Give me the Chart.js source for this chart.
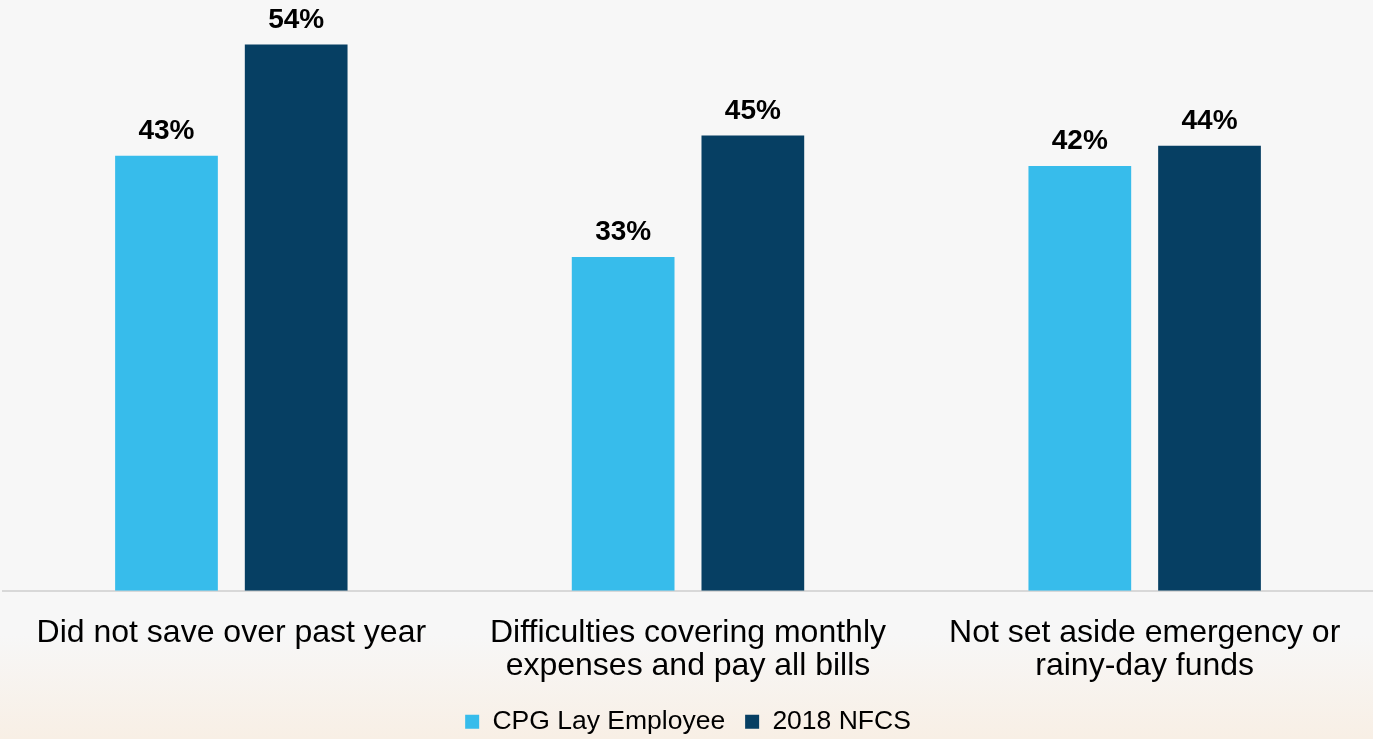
<!DOCTYPE html>
<html>
<head>
<meta charset="utf-8">
<title>Financial stress indicators</title>
<script src="https://cdn.jsdelivr.net/npm/chart.js@4/dist/chart.umd.min.js"></script>
<style>
  html, body {
    margin: 0;
    padding: 0;
  }
  body {
    width: 1373px;
    height: 739px;
    overflow: hidden;
    background: linear-gradient(180deg, #f7f7f7 0%, #f7f7f7 86%, #f8efe5 100%);
  }
  #wrap {
    position: relative;
    width: 1373px;
    height: 739px;
  }
</style>
</head>
<body>
<div id="wrap"><canvas id="myChart"></canvas></div>
<script>
const categories = [
  "Did not save over past year",
  ["Difficulties covering monthly", "expenses and pay all bills"],
  ["Not set aside emergency or", "rainy-day funds"]
];
const seriesNames = ["CPG Lay Employee", "2018 NFCS"];
const cpgValues = [43, 33, 42];
const nfcsValues = [54, 45, 44];
const barColors = ["#37bceb", "#063f63"];

const fontFamily = '"Liberation Sans", Arial, sans-serif';

// percentage labels above each bar
const barValueLabels = {
  id: "barValueLabels",
  afterDatasetsDraw(chart) {
    const ctx = chart.ctx;
    ctx.save();
    ctx.font = "bold 28px " + fontFamily;
    ctx.fillStyle = "#000";
    ctx.textAlign = "center";
    ctx.textBaseline = "alphabetic";
    chart.data.datasets.forEach(function (ds, i) {
      chart.getDatasetMeta(i).data.forEach(function (bar, j) {
        ctx.fillText(ds.data[j] + "%", bar.x, bar.y - 17);
      });
    });
    ctx.restore();
  }
};

new Chart("myChart", {
  type: "bar",
  data: {
    labels: categories,
    datasets: [{
      label: seriesNames[0],
      data: cpgValues,
      backgroundColor: barColors[0]
    }, {
      label: seriesNames[1],
      data: nfcsValues,
      backgroundColor: barColors[1]
    }]
  },
  options: {
    responsive: true,
    maintainAspectRatio: false,
    animation: false,
    categoryPercentage: 0.568,
    barPercentage: 0.792,
    layout: {
      padding: { left: 3, right: 0, top: 0, bottom: -6 }
    },
    scales: {
      x: {
        grid: { display: true, drawOnChartArea: false, drawTicks: false },
        border: { display: true, color: "#d8d8d8", width: 2 },
        ticks: {
          color: "#000",
          padding: 26,
          maxRotation: 0,
          autoSkip: false,
          font: { family: fontFamily, size: 32, lineHeight: 1.02 }
        },
        // only keep room for the labels themselves, not the padding below them
        afterFit: function (scale) {
          scale.height = 97.75;
        }
      },
      y: {
        display: false,
        min: 0,
        max: 58.4
      }
    },
    plugins: {
      tooltip: { enabled: false },
      legend: {
        position: "bottom",
        labels: {
          color: "#000",
          boxWidth: 14,
          boxHeight: 14,
          padding: 20,
          font: { family: fontFamily, size: 26.5 }
        }
      }
    }
  },
  plugins: [barValueLabels]
});
</script>
</body>
</html>
